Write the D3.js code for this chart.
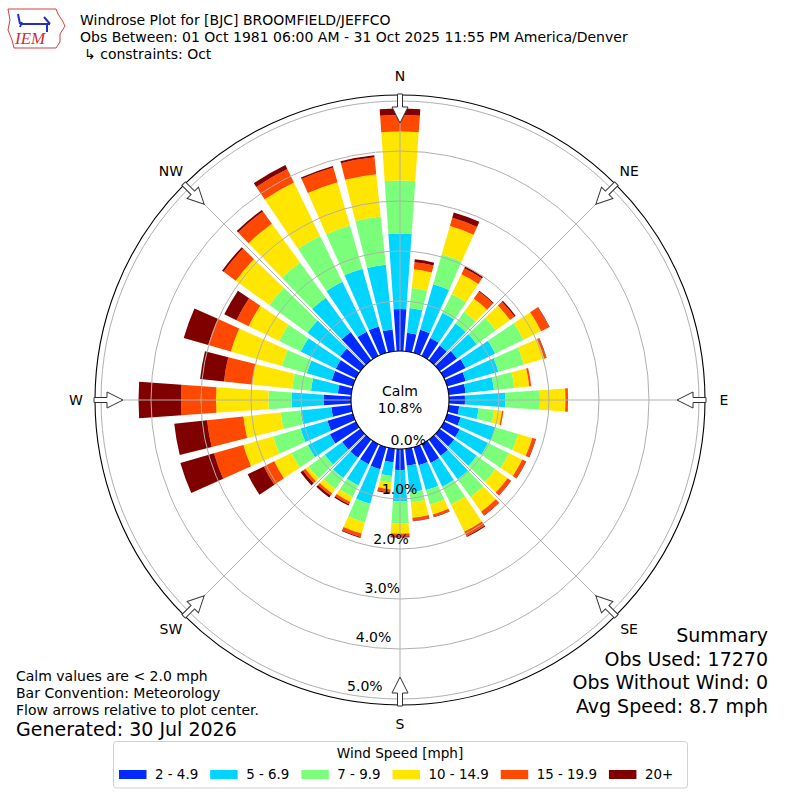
<!DOCTYPE html>
<html>
<head>
<meta charset="utf-8">
<title>Windrose BJC</title>
<script src="https://cdn.jsdelivr.net/npm/d3@7"></script>
<style>
    body { margin: 0; background: #fff; }
    svg text { font-family: 'DejaVu Sans', sans-serif; fill: #000; }
</style>
</head>
<body>
<div id="chart-container"></div>
<script>
// Direction bins (degrees, meteorological "from" direction)
const directions = [0, 10, 20, 30, 40, 50, 60, 70, 80, 90, 100, 110, 120, 130, 140, 150, 160, 170,
    180, 190, 200, 210, 220, 230, 240, 250, 260, 270, 280, 290, 300, 310, 320, 330, 340, 350];

const speedBins = ['2 - 4.9', '5 - 6.9', '7 - 9.9', '10 - 14.9', '15 - 19.9', '20+'];

// Frequency [%] per direction for each speed bin
const speed2to5 = [0.84, 0.37, 0.48, 0.40, 0.37, 0.43, 0.48, 0.39, 0.34, 0.32, 0.21, 0.28, 0.35, 0.36, 0.40, 0.42, 0.38, 0.34,
    0.42, 0.27, 0.46, 0.45, 0.45, 0.45, 0.58, 0.53, 0.40, 0.55, 0.27, 0.44, 0.45, 0.50, 0.70, 0.54, 0.55, 0.44];
const speed5to7 = [1.51, 0.50, 0.95, 0.56, 0.54, 0.49, 0.66, 0.68, 0.57, 0.81, 0.39, 0.72, 0.63, 0.56, 0.58, 0.53, 0.52, 0.54,
    0.63, 0.28, 0.72, 0.47, 0.50, 0.43, 0.49, 0.56, 0.62, 0.64, 0.54, 0.52, 0.78, 0.81, 0.85, 1.11, 1.20, 1.30];
const speed7to10 = [1.06, 0.40, 0.62, 0.42, 0.29, 0.47, 0.63, 0.53, 0.41, 0.69, 0.31, 0.48, 0.47, 0.46, 0.44, 0.40, 0.30, 0.20,
    0.44, 0.13, 0.39, 0.26, 0.27, 0.40, 0.37, 0.57, 0.40, 0.46, 0.38, 0.52, 0.48, 0.94, 0.87, 1.02, 0.90, 0.97];
const speed10to15 = [0.98, 0.38, 0.59, 0.44, 0.33, 0.35, 0.39, 0.42, 0.30, 0.51, 0.16, 0.29, 0.29, 0.30, 0.36, 0.60, 0.20, 0.31,
    0.20, 0.14, 0.23, 0.11, 0.11, 0.08, 0.38, 0.62, 0.75, 1.05, 0.81, 1.06, 0.68, 0.83, 0.96, 1.19, 0.90, 0.85];
const speed15to20 = [0.33, 0.14, 0.17, 0.13, 0.17, 0.11, 0.18, 0.04, 0.04, 0.04, 0.03, 0.07, 0.08, 0.08, 0.09, 0.10, 0.05, 0.06,
    0.06, 0.06, 0.07, 0.05, 0.05, 0.06, 0.23, 0.61, 0.73, 0.70, 0.56, 0.47, 0.27, 0.30, 0.30, 0.30, 0.31, 0.34];
const speed20plus = [0.13, 0.06, 0.11, 0.04, 0.02, 0.03, 0.01, 0.01, 0.00, 0.01, 0.00, 0.01, 0.01, 0.01, 0.01, 0.02, 0.01, 0.01,
    0.02, 0.02, 0.02, 0.03, 0.05, 0.06, 0.36, 0.70, 0.66, 0.85, 0.48, 0.51, 0.27, 0.04, 0.04, 0.09, 0.03, 0.04];

const ringTicks = [0, 1, 2, 3, 4, 5];
const ringLabels = ['0.0%', '1.0%', '2.0%', '3.0%', '4.0%', '5.0%'];
const compassLabels = ['N', 'NE', 'E', 'SE', 'S', 'SW', 'W', 'NW'];
const compassAngles = [0, 45, 90, 135, 180, 225, 270, 315];

const calmText = ['Calm', '10.8%'];
const titleLines = [
    'Windrose Plot for [BJC] BROOMFIELD/JEFFCO',
    'Obs Between: 01 Oct 1981 06:00 AM - 31 Oct 2025 11:55 PM America/Denver',
    '\u21B3 constraints: Oct'
];
const noteLines = ['Calm values are < 2.0 mph', 'Bar Convention: Meteorology', 'Flow arrows relative to plot center.'];
const generatedText = 'Generated: 30 Jul 2026';
const summaryLines = ['Summary', 'Obs Used: 17270', 'Obs Without Wind: 0', 'Avg Speed: 8.7 mph'];
const legendTitle = 'Wind Speed [mph]';

// Look and layout
const config = {
    width: 800,
    height: 800,
    cx: 400,
    cy: 400,
    calmRadius: 49,
    ringRadius5: 299,
    outerRadius: 305,
    barWidthDeg: 8,
    colors: ['#002aff', '#00d4ff', '#7bff7b', '#ffe600', '#ff4800', '#800000'],
    gridColor: '#b0b0b0',
    font: 14,
    legendFont: 13.4
};

const windrose = {
    svg: null,

    /**
     * Build the whole figure
     */
    draw: function() {
        const svg = d3.select('#chart-container')
            .append('svg')
            .attr('width', config.width)
            .attr('height', config.height);
        this.svg = svg;

        const seriesArrays = [speed2to5, speed5to7, speed7to10, speed10to15, speed15to20, speed20plus];
        const rows = directions.map((dir, i) => {
            const row = { dir: dir };
            speedBins.forEach((b, k) => { row[b] = seriesArrays[k][i]; });
            return row;
        });
        const stacked = d3.stack().keys(speedBins)(rows);

        const rScale = d3.scaleLinear()
            .domain([0, 5])
            .range([config.calmRadius, config.ringRadius5]);

        const toRad = d => d * Math.PI / 180;
        const half = config.barWidthDeg / 2;

        const plot = svg.append('g')
            .attr('transform', `translate(${config.cx},${config.cy})`);

        // stacked bars
        const arc = d3.arc();
        plot.selectAll('.layer')
            .data(stacked)
            .enter()
            .append('g')
            .attr('class', 'layer')
            .attr('fill', (d, i) => config.colors[i])
            .selectAll('path')
            .data(d => d)
            .enter()
            .append('path')
            .attr('d', d => arc({
                innerRadius: rScale(d[0]),
                outerRadius: rScale(d[1]),
                startAngle: toRad(d.data.dir - half),
                endAngle: toRad(d.data.dir + half)
            }));

        // rings on top of the bars, like the original
        plot.selectAll('.ring')
            .data(ringTicks.filter(t => t > 0))
            .enter()
            .append('circle')
            .attr('class', 'ring')
            .attr('r', d => rScale(d))
            .attr('fill', 'none')
            .attr('stroke', config.gridColor)
            .attr('stroke-width', 1);

        plot.selectAll('.spoke')
            .data(compassAngles)
            .enter()
            .append('line')
            .attr('class', 'spoke')
            .attr('x1', d => config.calmRadius * Math.sin(toRad(d)))
            .attr('y1', d => -config.calmRadius * Math.cos(toRad(d)))
            .attr('x2', d => config.outerRadius * Math.sin(toRad(d)))
            .attr('y2', d => -config.outerRadius * Math.cos(toRad(d)))
            .attr('stroke', config.gridColor)
            .attr('stroke-width', 1);

        plot.append('circle')
            .attr('r', config.outerRadius)
            .attr('fill', 'none')
            .attr('stroke', '#000')
            .attr('stroke-width', 1.1);

        // calm circle
        plot.append('circle')
            .attr('r', rScale(0))
            .attr('fill', '#fff')
            .attr('stroke', '#000')
            .attr('stroke-width', 1.1);

        plot.selectAll('.calm')
            .data(calmText)
            .enter()
            .append('text')
            .attr('class', 'calm')
            .attr('x', 0)
            .attr('y', (d, i) => i === 0 ? -9 : 8)
            .attr('text-anchor', 'middle')
            .attr('dominant-baseline', 'central')
            .attr('font-size', config.font)
            .text(d => d);

        // radial labels along 190 deg
        const labelAngle = toRad(190);
        plot.selectAll('.rlabel')
            .data(ringTicks)
            .enter()
            .append('text')
            .attr('class', 'rlabel')
            .attr('x', d => rScale(d) * Math.sin(labelAngle) - 1)
            .attr('y', d => -rScale(d) * Math.cos(labelAngle) - 8)
            .attr('text-anchor', 'start')
            .attr('dominant-baseline', 'central')
            .attr('font-size', config.font)
            .text((d, i) => ringLabels[i]);

        // inward flow arrows
        const arrowPts = [[-2.5, -306], [2.5, -306], [2.5, -293], [8, -293], [0, -277], [-8, -293], [-2.5, -293]];
        plot.selectAll('.arrow')
            .data(compassAngles)
            .enter()
            .append('path')
            .attr('class', 'arrow')
            .attr('d', 'M' + arrowPts.map(p => p.join(',')).join('L') + 'Z')
            .attr('transform', d => `rotate(${d})`)
            .attr('fill', '#fff')
            .attr('stroke', '#333')
            .attr('stroke-width', 1)
            .attr('stroke-linejoin', 'miter');

        plot.selectAll('.compass')
            .data(compassAngles)
            .enter()
            .append('text')
            .attr('class', 'compass')
            .attr('x', d => 324 * Math.sin(toRad(d)))
            .attr('y', d => -324 * Math.cos(toRad(d)))
            .attr('text-anchor', 'middle')
            .attr('dominant-baseline', 'central')
            .attr('font-size', config.font)
            .text((d, i) => compassLabels[i]);

        this.drawTexts();
        this.drawLegend();
        this.drawLogo();
    },

    /**
     * Title, notes and summary
     */
    drawTexts: function() {
        const svg = this.svg;

        svg.selectAll('.title')
            .data(titleLines)
            .enter()
            .append('text')
            .attr('class', 'title')
            .attr('x', (d, i) => i === 2 ? 84 : 80)
            .attr('y', (d, i) => 20 + i * 17)
            .attr('dominant-baseline', 'central')
            .attr('font-size', config.font)
            .text(d => d);

        svg.selectAll('.note')
            .data(noteLines)
            .enter()
            .append('text')
            .attr('class', 'note')
            .attr('x', 16)
            .attr('y', (d, i) => 676 + i * 17)
            .attr('dominant-baseline', 'central')
            .attr('font-size', config.font)
            .text(d => d);

        svg.append('text')
            .attr('x', 16)
            .attr('y', 729)
            .attr('dominant-baseline', 'central')
            .attr('font-size', 19)
            .text(generatedText);

        svg.selectAll('.summary')
            .data(summaryLines)
            .enter()
            .append('text')
            .attr('class', 'summary')
            .attr('x', 768)
            .attr('y', (d, i) => 635 + i * 23.5)
            .attr('text-anchor', 'end')
            .attr('dominant-baseline', 'central')
            .attr('font-size', 19)
            .text(d => d);
    },

    /**
     * Speed legend below the rose
     */
    drawLegend: function() {
        const svg = this.svg;
        const g = svg.append('g');

        g.append('rect')
            .attr('x', 113.5)
            .attr('y', 741.5)
            .attr('width', 574)
            .attr('height', 46.5)
            .attr('rx', 3)
            .attr('fill', '#fff')
            .attr('stroke', '#d0d0d0')
            .attr('stroke-width', 1);

        g.append('text')
            .attr('x', 400)
            .attr('y', 753)
            .attr('text-anchor', 'middle')
            .attr('dominant-baseline', 'central')
            .attr('font-size', 13.6)
            .text(legendTitle);

        let x = 119;
        speedBins.forEach((label, i) => {
            g.append('rect')
                .attr('x', x)
                .attr('y', 770)
                .attr('width', 27.5)
                .attr('height', 9)
                .attr('fill', config.colors[i]);
            const t = g.append('text')
                .attr('x', x + 36)
                .attr('y', 774.5)
                .attr('dominant-baseline', 'central')
                .attr('font-size', config.legendFont)
                .text(label);
            x = x + 36 + t.node().getComputedTextLength() + 12;
        });
    },

    /**
     * Rough IEM logo in the corner
     */
    drawLogo: function() {
        const g = this.svg.append('g');
        const outline = [[8, 9], [56, 9], [58, 14], [62, 20], [65, 26], [60, 34], [60, 42], [56, 48], [14, 48], [12, 40], [8, 30], [10, 20]];
        g.append('path')
            .attr('d', 'M' + outline.map(p => p.join(',')).join('L') + 'Z')
            .attr('fill', '#fff')
            .attr('stroke', '#d04040')
            .attr('stroke-width', 1);
        g.append('path')
            .attr('d', 'M20,24 L50,24 M20,24 L18,14 M44,17 L50,24 M47,24 L47,32 M22,22 L20,27')
            .attr('stroke', '#2030c0')
            .attr('stroke-width', 2)
            .attr('fill', 'none');
        g.append('text')
            .attr('x', 15)
            .attr('y', 44)
            .attr('font-size', 17)
            .style('font-family', "'Liberation Serif', serif")
            .style('font-style', 'italic')
            .style('fill', '#d03030')
            .text('IEM');
    }
};

windrose.draw();
</script>
</body>
</html>
